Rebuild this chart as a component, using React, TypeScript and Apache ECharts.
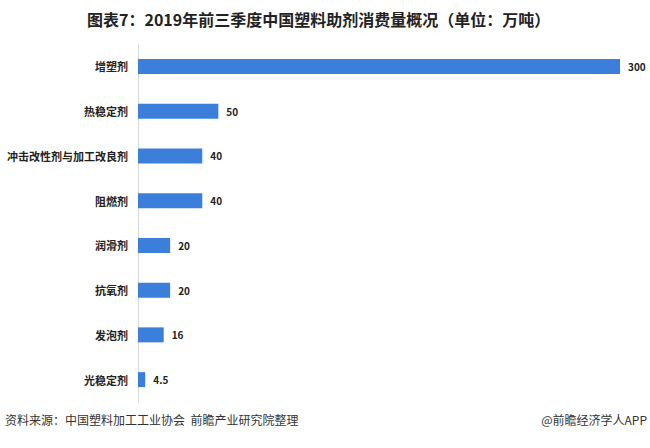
import React, { useEffect, useRef } from "react";
import * as echarts from "echarts";

const categories = ["增塑剂", "热稳定剂", "冲击改性剂与加工改良剂", "阻燃剂", "润滑剂", "抗氧剂", "发泡剂", "光稳定剂"];
const values = [300, 50, 40, 40, 20, 20, 16, 4.5];
const titleText = "图表7：2019年前三季度中国塑料助剂消费量概况（单位：万吨）";
const sourceText = "资料来源：中国塑料加工工业协会  前瞻产业研究院整理";
const brandText = "@前瞻经济学人APP";

export default function App() {
  const ref = useRef<HTMLDivElement>(null);
  useEffect(() => {
    const chart = echarts.init(ref.current!, null, { renderer: "svg" });
    chart.setOption({
      animation: false,
      backgroundColor: "#ffffff",
      textStyle: { fontFamily: "Noto Sans CJK SC" },
      title: {
        text: titleText,
        left: 82,
        top: 6,
        textStyle: { fontSize: 16, fontWeight: "bold", color: "#222", fontFamily: "Noto Sans CJK SC" },
      },
      graphic: [
        {
          type: "text",
          left: 5,
          top: 413,
          style: { text: sourceText, fontSize: 12, fill: "#333", fontFamily: "Noto Sans CJK SC" },
        },
        {
          type: "text",
          right: 3,
          top: 413,
          style: { text: brandText, fontSize: 12, fill: "#333", fontFamily: "Noto Sans CJK SC" },
        },
      ],
      grid: { left: 138, right: 30, top: 44, bottom: 46, containLabel: false },
      xAxis: {
        type: "value",
        min: 0,
        max: 300,
        show: false,
      },
      yAxis: {
        type: "category",
        data: categories,
        inverse: true,
        axisLine: { show: true, lineStyle: { color: "#d9d9d9", width: 1 } },
        axisTick: { show: false },
        axisLabel: { margin: 10, fontSize: 11, fontWeight: "bold", color: "#222", fontFamily: "Noto Sans CJK SC" },
      },
      series: [
        {
          type: "bar",
          data: values,
          barWidth: 15,
          itemStyle: { color: "#3b7fdb" },
          label: {
            show: true,
            position: "right",
            distance: 8,
            fontSize: 10,
            fontWeight: "bold",
            color: "#222",
            fontFamily: "Noto Sans CJK SC",
          },
        },
      ],
    });
    return () => chart.dispose();
  }, []);
  return <div ref={ref} style={{ width: 650, height: 448, position: "absolute", left: 0, top: 0 }} />;
}
